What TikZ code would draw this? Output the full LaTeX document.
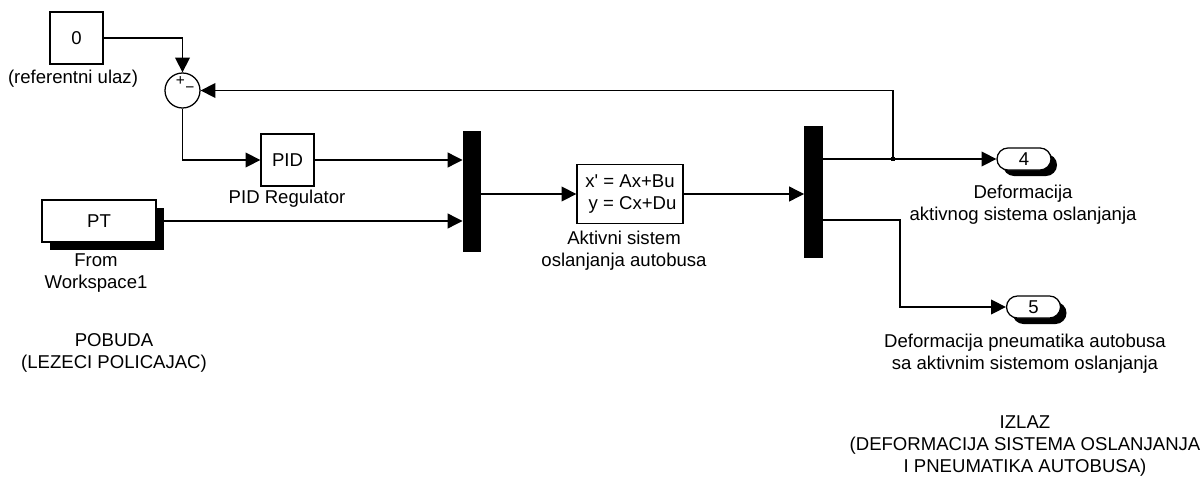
\documentclass[tikz,border=0pt]{standalone}
\usepackage{fontspec}
\setmainfont{Liberation Sans}
\usetikzlibrary{positioning,arrows.meta,shapes.misc,shadows}
\newcommand{\sig}{-{Triangle[length=3.7mm,width=3.7mm]}}
\newcommand{\lbfont}{\fontsize{13.2}{15.5}\selectfont}

\tikzset{
  wire/.style={line width=0.9pt},
  blk/.style={draw,line width=0.9pt,fill=white,inner sep=0pt,font=\lbfont},
  shd/.style={drop shadow={shadow xshift=0.2cm,shadow yshift=-0.2cm,fill=black,opacity=1}},
  mux/.style={fill=black,inner sep=0pt,minimum width=0.46cm},
  outp/.style={blk,rounded rectangle,minimum width=1.35cm,minimum height=0.55cm,
    drop shadow={shadow xshift=0.15cm,shadow yshift=-0.15cm,fill=black,opacity=1}},
  lbl/.style={align=center,inner sep=0pt,font=\lbfont}
}

\begin{document}
\begin{tikzpicture}[x=0.025cm,y=-0.025cm]
  \useasboundingbox (0,0) rectangle (1202,479);

  \node[blk,minimum width=1.325cm,minimum height=1.3cm] (c0) at (76.5,38) {0};
  \node[lbl] (c0l) at (73,79) {(referentni ulaz)};

  \node[draw,circle,line width=0.9pt,minimum size=0.875cm,inner sep=0pt] (sum) at (182.5,90.5) {};
  \node[inner sep=0pt,font=\fontsize{11}{12}\selectfont] (plus) at (180.5,81) {+};
  \node[inner sep=0pt,font=\fontsize{11}{12}\selectfont] (minus) at (190,89.5) {−};

  \node[blk,minimum width=1.325cm,minimum height=1.3cm] (pid) at (287.5,160) {PID};
  \node[lbl] (pidl) at (287,199) {PID Regulator};

  \node[blk,shd,minimum width=2.85cm,minimum height=1.05cm] (pt) at (99,221) {PT};
  \node[lbl] (ptl) at (96,273) {From\\Workspace1};
  \node[lbl] (pob) at (114,353) {POBUDA\\(LEZECI POLICAJAC)};

  \node[mux,minimum height=3.025cm] (mux1) at (472,191.5) {};
  \node[blk,minimum width=2.65cm,minimum height=1.475cm,align=center] (ss) at (630,194)
    {x\textquotesingle{} = Ax+Bu\\ \ y = Cx+Du};
  \node[lbl] (ssl) at (624,251) {Aktivni sistem\\oslanjanja autobusa};

  \node[mux,minimum height=3.3cm] (mux2) at (813.5,192) {};

  \node[outp] (out4) at (1024,159) {4};
  \node[lbl] (o4l) at (1023,205) {Deformacija\\aktivnog sistema oslanjanja};
  \node[outp] (out5) at (1033.5,307) {5};
  \node[lbl] (o5l) at (1025,354) {Deformacija pneumatika autobusa\\sa aktivnim sistemom oslanjanja};
  \node[lbl] (izl) at (1025,446) {IZLAZ\\(DEFORMACIJA SISTEMA OSLANJANJA\\I PNEUMATIKA AUTOBUSA)};

  \coordinate (br) at (893,159);
  \coordinate (m2b) at (mux2.east |- 0,220);

  \draw[wire,\sig] (c0.east) -| (sum.north);
  \draw[wire,\sig] (sum.south) |- (pid.west);
  \draw[wire,\sig] (pid.east) -- (mux1.west |- pid.east);
  \draw[wire,\sig] (pt.east) -- (mux1.west |- pt.east);
  \draw[wire,\sig] (mux1.east |- ss.west) -- (ss.west);
  \draw[wire,\sig] (ss.east) -- (mux2.west |- ss.east);
  \draw[wire,\sig] (mux2.east |- out4.west) -- (out4.west);
  \draw[wire,\sig] (br) |- (sum.east);
  \fill (br) ++(-2,-2) rectangle ++(4,4);
  \draw[wire,\sig] (m2b) -- ++(77,0) |- (out5.west);
\end{tikzpicture}
\end{document}
